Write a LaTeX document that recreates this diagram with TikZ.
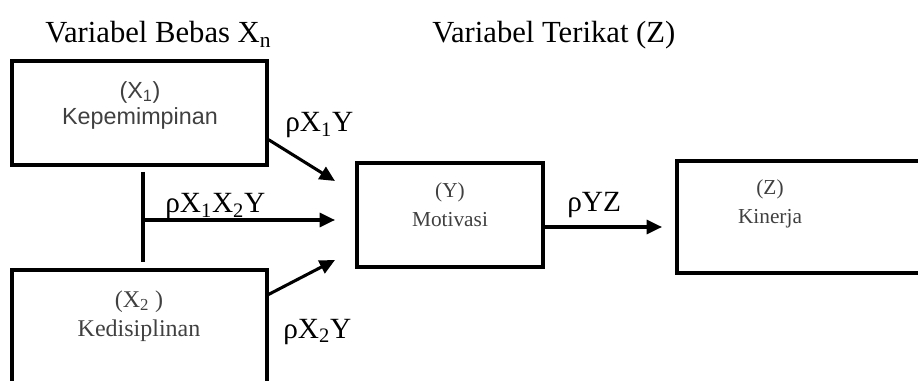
\documentclass[tikz,border=0pt]{standalone}
\usepackage{fontspec}
\setmainfont{Liberation Serif}
\newfontfamily\arialfont{Liberation Sans}
\usepackage{xcolor}
\usetikzlibrary{arrows.meta}
\definecolor{boxgray}{HTML}{404040}

\begin{document}
\begin{tikzpicture}[x=0.75pt, y=-0.75pt,
	varbox/.style={draw, line width=2.3pt, inner sep=0pt},
	boxtext/.style={text=boxgray, align=center, inner sep=0pt},
	coef/.style={anchor=base west, inner sep=0pt, font=\fontsize{22}{26}\selectfont},
	title/.style={anchor=base west, inner sep=0pt, font=\fontsize{23}{27}\selectfont},
	path/.style={line width=2.3pt, -{Triangle[length=11.5pt, width=10.5pt]}}]
	\useasboundingbox (0, 0) rectangle (918, 381);
	\clip (0, 0) rectangle (918, 381);

	\node[title] (bebas) at (45, 43) {Variabel Bebas X\textsubscript{n}};
	\node[title] (terikat) at (432, 43) {Variabel Terikat (Z)};

	% Boxes of the variables
	\node[varbox, minimum width=191.25pt, minimum height=78pt] (x1) at (139.5, 113) {};
	\node[varbox, minimum width=191.25pt, minimum height=97.5pt] (x2) at (139.5, 335) {};
	\node[varbox, minimum width=139.5pt, minimum height=78pt] (y) at (450, 215) {};
	\node[varbox, minimum width=197.25pt, minimum height=84pt] (z) at (808.5, 217) {};

	\node[boxtext, font=\arialfont\fontsize{17.5}{19.5}\selectfont] (x1t) at (140, 105) {(X\textsubscript{1})\\Kepemimpinan};
	\node[boxtext, font=\fontsize{18}{22}\selectfont] (x2t) at (139, 316) {(X\textsubscript{2} )\\Kedisiplinan};
	\node[boxtext, font=\fontsize{16}{22}\selectfont] (yt) at (450, 205) {(Y)\\Motivasi};
	\node[boxtext, font=\fontsize{16}{22}\selectfont] (zt) at (770, 204) {(Z)\\Kinerja};

	% Ends of the connectors
	\coordinate (t1) at (335, 181);
	\coordinate (t2) at (335, 220);
	\coordinate (t3) at (335, 260);
	\coordinate (t4) at (662, 227);
	\coordinate (j1) at (143, 172);
	\coordinate (j2) at (143, 262);

	% Draw the paths with their coefficients
	\draw[path] ([yshift=-20pt]x1.east) -- (t1);
	\draw[line width=2.3pt] (j1) -- (j2);
	\draw[path] (j1 |- t2) -- (t2);
	\draw[path] ([yshift=-19.5pt]x2.north east) -- (t3);
	\draw[path] ([yshift=-9pt]y.east) -- (t4);

	\node[coef] (p1) at (285, 132) {ρX\textsubscript{1}Y};
	\node[coef] (p12) at (165, 213) {ρX\textsubscript{1}X\textsubscript{2}Y};
	\node[coef] (p2) at (283, 338) {ρX\textsubscript{2}Y};
	\node[coef] (pyz) at (567, 212) {ρYZ};
\end{tikzpicture}
\end{document}
